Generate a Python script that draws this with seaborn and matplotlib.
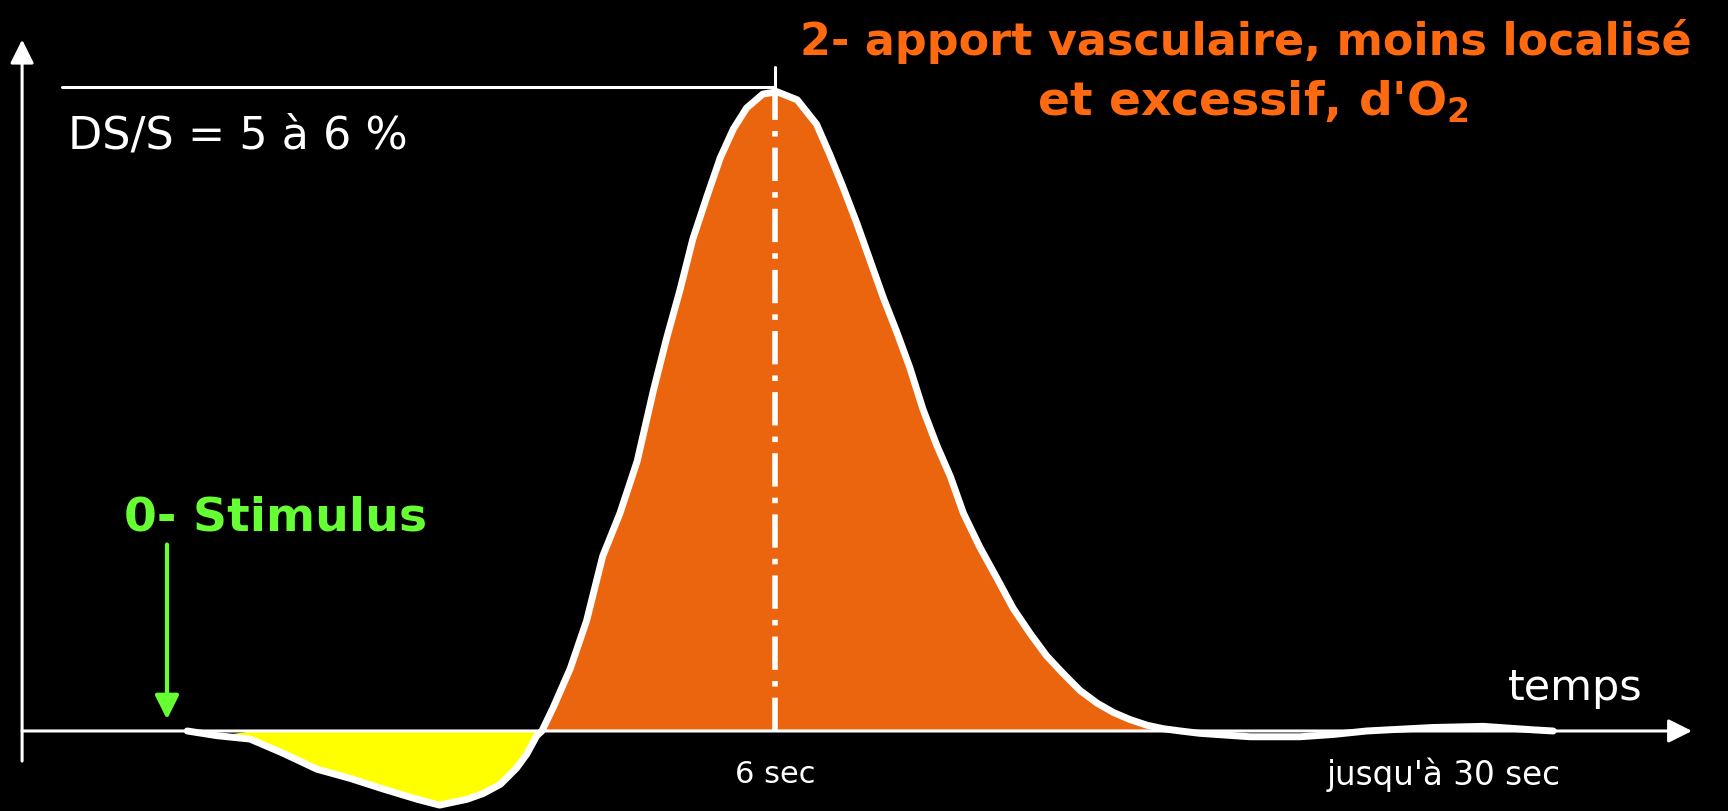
import matplotlib
matplotlib.use("Agg")
import matplotlib.pyplot as plt
import seaborn as sns
import numpy as np
import pandas as pd

# reponse BOLD : temps (s) et signal (% DS/S)
temps_s = [0.20, 0.49, 0.82, 1.14, 1.48, 1.81, 2.13, 2.47, 2.69, 2.96, 3.12, 3.29,
           3.45, 3.55, 3.65, 3.70, 3.81, 3.98, 4.14, 4.30, 4.47, 4.64, 4.80, 4.93,
           5.06, 5.19, 5.33, 5.46, 5.59, 5.72, 5.88, 6.02, 6.22, 6.41, 6.54, 6.67,
           6.81, 6.94, 7.07, 7.20, 7.33, 7.46, 7.60, 7.73, 7.86, 8.02, 8.19, 8.35,
           8.52, 8.68, 8.84, 9.01, 9.18, 9.34, 9.50, 9.67, 9.83, 10.00, 10.19, 10.69,
           11.18, 11.51, 11.84, 12.49, 12.99, 13.48, 13.68]
signal = [0.00, -0.04, -0.07, -0.19, -0.33, -0.41, -0.50, -0.59, -0.64, -0.59, -0.54, -0.46,
          -0.32, -0.20, -0.04, 0.00, 0.20, 0.54, 0.95, 1.51, 1.88, 2.33, 2.94, 3.39,
          3.80, 4.25, 4.62, 4.95, 5.20, 5.38, 5.50, 5.52, 5.45, 5.24, 4.98, 4.70,
          4.38, 4.06, 3.74, 3.45, 3.14, 2.78, 2.46, 2.20, 1.88, 1.59, 1.32, 1.06,
          0.84, 0.65, 0.50, 0.35, 0.24, 0.16, 0.10, 0.05, 0.02, 0.00, -0.02, -0.05,
          -0.05, -0.03, 0.00, 0.03, 0.04, 0.01, 0.00]

t_stimulus = 0.0
t_pic = 6.0
niveau_pic = 5.56

titre = ["2- apport vasculaire, moins localisé", "et excessif, d'O$_2$"]
label_stim = "0- Stimulus"
label_ds = "DS/S = 5 à 6 %"
label_axe = "temps"
labels_temps = ["6 sec", "jusqu'à 30 sec"]
pos_labels_temps = [6.0, 12.6]

df = pd.DataFrame({"temps": temps_s, "signal": signal})

sns.set_theme(style="dark", rc={"axes.facecolor": "black", "figure.facecolor": "black"})
plt.rcParams['font.family'] = ['DejaVu Sans']
plt.rcParams['mathtext.default'] = 'regular'

orange = "#EB650E"
orange_txt = "#FF6A10"
vert = "#66FF33"

fig = plt.figure(figsize=(17.28, 8.12), dpi=100)
ax = fig.add_axes([0, 0, 1, 1])
ax.set_xlim(-1.648, 15.405)
ax.set_ylim(-0.691, 6.321)
ax.axis('off')

t = df["temps"].to_numpy()
s = df["signal"].to_numpy()
ax.fill_between(t, s, 0, where=(s < 0) & (t > 0.75) & (t < 5), interpolate=True,
                color="#FFFF00", lw=0, zorder=1)
ax.fill_between(t, s, 0, where=s > 0, interpolate=True, color=orange, lw=0, zorder=1)
sns.lineplot(data=df, x="temps", y="signal", ax=ax, color="white", lw=5,
             sort=False, zorder=3)

# pointillé au pic
ax.plot([t_pic, t_pic], [0, max(signal)], color="white", lw=4,
        linestyle=(0, (6, 2, 1, 2)), zorder=4)
# niveau du pic
ax.plot([-1.04, t_pic], [niveau_pic, niveau_pic], color="white", lw=2.2, zorder=4)
ax.plot([t_pic, t_pic], [max(signal), 5.73], color="white", lw=2.2, zorder=4)

# axes fleches
ax.annotate("", xy=(15.05, 0), xytext=(-1.43, 0),
            arrowprops=dict(arrowstyle="-|>", color="white", lw=2.2,
                            mutation_scale=36, shrinkA=0, shrinkB=0), zorder=5)
ax.annotate("", xy=(-1.43, 5.97), xytext=(-1.43, -0.26),
            arrowprops=dict(arrowstyle="-|>", color="white", lw=2.2,
                            mutation_scale=36, shrinkA=0, shrinkB=0), zorder=5)

# stimulus
ax.annotate("", xy=(t_stimulus, 0.10), xytext=(t_stimulus, 1.61),
            arrowprops=dict(arrowstyle="-|>", color=vert, lw=3,
                            mutation_scale=36, shrinkA=0, shrinkB=0), zorder=5)
ax.text(-0.42, 1.85, label_stim, color=vert, fontsize=34, fontweight="bold",
        ha="left", va="center")

ax.text(-0.98, 5.15, label_ds, color="white", fontsize=32, ha="left", va="center")
ax.text(13.9, 0.28, label_axe, color="white", fontsize=31, ha="center", va="baseline")
ax.text(pos_labels_temps[0], -0.37, labels_temps[0], color="white", fontsize=22,
        ha="center", va="center")
ax.text(pos_labels_temps[1], -0.37, labels_temps[1], color="white", fontsize=23.5,
        ha="center", va="center")

ax.text(10.65, 5.96, titre[0], color=orange_txt, fontsize=32, fontweight="bold",
        ha="center", va="center")
ax.text(10.72, 5.44, titre[1], color=orange_txt, fontsize=34, fontweight="bold",
        ha="center", va="center")

fig.savefig("out.png", dpi=100, facecolor="black")
